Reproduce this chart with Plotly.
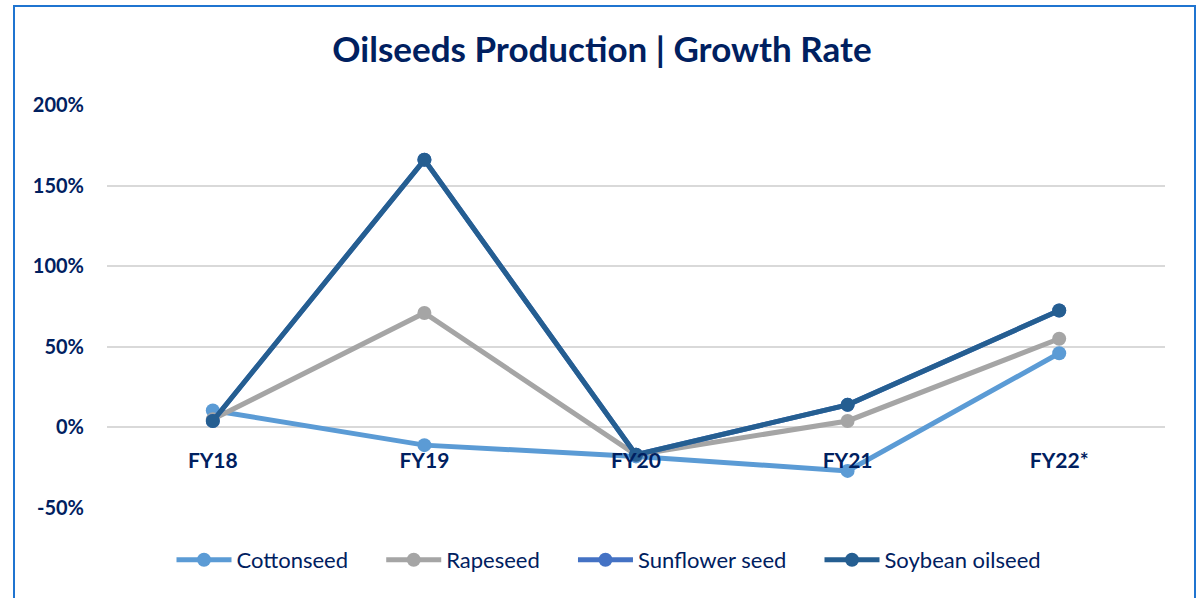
import plotly.graph_objects as go

# Chart data (growth rate, %)
years = ['FY18', 'FY19', 'FY20', 'FY21', 'FY22*']
cottonseed = [10.5, -11, -18, -27, 46]
rapeseed = [5, 71, -17, 4, 55]
sunflower = [4, 166, -17, 14, 72.5]
soybean = [4, 166, -17, 14, 72.5]

y_ticks = [-50, 0, 50, 100, 150, 200]
y_labels = ['-50%', '0%', '50%', '100%', '150%', '200%']

navy = '#002060'
font_name = 'Lato'
pad = '\u00a0' * 5

fig = go.Figure()

series = [
    ('Cottonseed' + pad, cottonseed, '#5B9BD5'),
    ('Rapeseed' + pad, rapeseed, '#A5A5A5'),
    ('Sunflower seed' + pad, sunflower, '#4472C4'),
    ('Soybean oilseed', soybean, '#255E91'),
]
for name, vals, color in series:
    fig.add_trace(go.Scatter(
        x=years, y=vals, name=name, mode='lines+markers',
        line=dict(color=color, width=5),
        marker=dict(color=color, size=14),
    ))

fig.update_layout(
    width=1204, height=598,
    margin=dict(l=107, r=39, t=105, b=90, autoexpand=False),
    paper_bgcolor='white', plot_bgcolor='white',
    title=dict(text='<b>Oilseeds Production | Growth Rate</b>', x=0.5, xanchor='center',
               y=(598 - 50) / 598, yref='container', yanchor='middle',
               font=dict(family=font_name, size=35, color=navy)),
    font=dict(family=font_name, color=navy),
    showlegend=True,
    legend=dict(orientation='h', x=(609 - 107) / 1058, xanchor='center', y=-0.129, yanchor='middle',
                font=dict(family=font_name, size=22, color=navy), itemwidth=55,
                traceorder='normal'),
    hovermode='x',
)

fig.update_xaxes(
    type='category', range=[-0.5, 4.5], anchor='free', position=(508 - 428) / 403,
    showline=False, showgrid=False, zeroline=False, ticks='', ticklabelstandoff=18,
    tickfont=dict(family=font_name, size=21, color=navy), tickprefix='<b>', ticksuffix='</b>',
)
fig.update_yaxes(
    range=[-50, 200], tickvals=y_ticks, ticktext=['<b>' + t + '</b>' for t in y_labels],
    showgrid=True, gridcolor='#D9D9D9', gridwidth=1.5, zeroline=False, showline=False,
    ticklabelstandoff=22, tickfont=dict(family=font_name, size=20, color=navy),
)

# Chart frame
fig.add_shape(type='rect', xref='paper', yref='paper',
              x0=(14 - 107) / 1058, x1=(1195 - 107) / 1058,
              y0=(508 - 610) / 403, y1=(508 - 6) / 403,
              line=dict(color='#1F74D0', width=2), layer='below')

fig.write_html('out.html', config={'displayModeBar': False},
               post_script="document.body.style.margin='0';")
